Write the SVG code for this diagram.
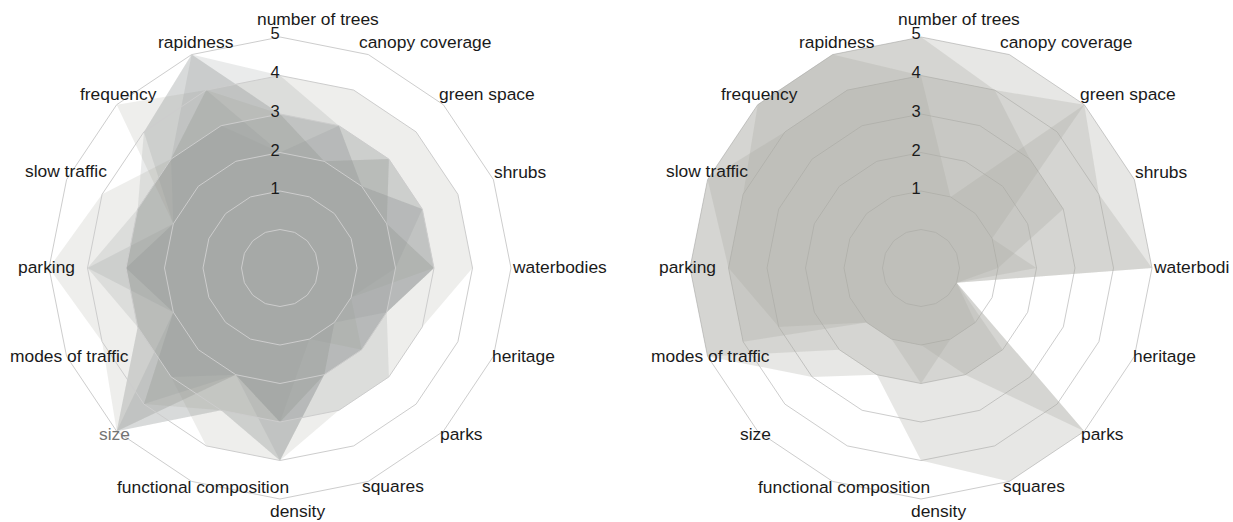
<svg xmlns="http://www.w3.org/2000/svg" xmlns:xlink="http://www.w3.org/1999/xlink" width="1233" height="522" viewBox="0 0 1233 522">
  <style>
    .ring { fill: none; stroke: #cdcdcd; stroke-width: 1; }
    .lab { font-family: "Liberation Sans", Arial, sans-serif; font-size: 17.4px; fill: #1a1a1a; }
    .tick { font-family: "Liberation Sans", Arial, sans-serif; font-size: 16.5px; fill: #1a1a1a; text-anchor: middle; }
    .sa { fill: #8c9290; fill-opacity: 0.18; stroke: none; }
    .sb { fill: #a39f97; fill-opacity: 0.18; stroke: none; }
    .ra { fill: #aaa9a2; fill-opacity: 0.28; stroke: none; }
  </style>
  <defs>
    <!-- 16-axis grid: levels 0..5, radius = 38.5 * (level + 1) -->
    <g id="rings">
      <polygon class="ring" points="0,-231 88.4,-213.4 163.3,-163.3 213.4,-88.4 231,0 213.4,88.4 163.3,163.3 88.4,213.4 0,231 -88.4,213.4 -163.3,163.3 -213.4,88.4 -231,0 -213.4,-88.4 -163.3,-163.3 -88.4,-213.4"/>
      <polygon class="ring" points="0,-192.5 73.7,-177.9 136.1,-136.1 177.9,-73.7 192.5,0 177.9,73.7 136.1,136.1 73.7,177.9 0,192.5 -73.7,177.9 -136.1,136.1 -177.9,73.7 -192.5,0 -177.9,-73.7 -136.1,-136.1 -73.7,-177.9"/>
      <polygon class="ring" points="0,-154 58.9,-142.3 108.9,-108.9 142.3,-58.9 154,0 142.3,58.9 108.9,108.9 58.9,142.3 0,154 -58.9,142.3 -108.9,108.9 -142.3,58.9 -154,0 -142.3,-58.9 -108.9,-108.9 -58.9,-142.3"/>
      <polygon class="ring" points="0,-115.5 44.2,-106.7 81.7,-81.7 106.7,-44.2 115.5,0 106.7,44.2 81.7,81.7 44.2,106.7 0,115.5 -44.2,106.7 -81.7,81.7 -106.7,44.2 -115.5,0 -106.7,-44.2 -81.7,-81.7 -44.2,-106.7"/>
      <polygon class="ring" points="0,-77 29.5,-71.1 54.4,-54.4 71.1,-29.5 77,0 71.1,29.5 54.4,54.4 29.5,71.1 0,77 -29.5,71.1 -54.4,54.4 -71.1,29.5 -77,0 -71.1,-29.5 -54.4,-54.4 -29.5,-71.1"/>
      <polygon class="ring" points="0,-38.5 14.7,-35.6 27.2,-27.2 35.6,-14.7 38.5,0 35.6,14.7 27.2,27.2 14.7,35.6 0,38.5 -14.7,35.6 -27.2,27.2 -35.6,14.7 -38.5,0 -35.6,-14.7 -27.2,-27.2 -14.7,-35.6"/>
    </g>
    <g id="ticks">
      <text class="tick" x="-5" y="-229">5</text>
      <text class="tick" x="-5" y="-190">4</text>
      <text class="tick" x="-5" y="-151">3</text>
      <text class="tick" x="-5" y="-112">2</text>
      <text class="tick" x="-5" y="-74">1</text>
    </g>
  </defs>

  <rect width="1233" height="522" fill="#ffffff"/>

  <!-- Left radar chart -->
  <g id="chart-left">
    <g id="left-series" transform="translate(280,268)">
      <polygon class="sa" points="0,-192.5 58.9,-142.3 108.9,-108.9 142.3,-58.9 154,0 106.7,44.2 81.7,81.7 44.2,106.7 0,192.5 -58.9,142.3 -163.3,163.3 -142.3,58.9 -154,0 -142.3,-58.9 -136.1,-136.1 -88.4,-213.4"/>
      <polygon class="sb" points="0,-154 44.2,-106.7 108.9,-108.9 106.7,-44.2 154,0 71.1,29.5 81.7,81.7 29.5,71.1 0,154 -58.9,142.3 -136.1,136.1 -106.7,44.2 -154,0 -106.7,-44.2 -163.3,-163.3 -73.7,-177.9"/>
      <polygon class="sa" points="0,-154 58.9,-142.3 81.7,-81.7 142.3,-58.9 154,0 106.7,44.2 81.7,81.7 44.2,106.7 0,192.5 -44.2,106.7 -163.3,163.3 -142.3,58.9 -192.5,0 -106.7,-44.2 -108.9,-108.9 -88.4,-213.4"/>
      <polygon class="sb" points="0,-115.5 44.2,-106.7 81.7,-81.7 106.7,-44.2 115.5,0 71.1,29.5 54.4,54.4 44.2,106.7 0,154 -44.2,106.7 -163.3,163.3 -177.9,73.7 -231,0 -177.9,-73.7 -108.9,-108.9 -58.9,-142.3"/>
      <polygon class="sb" points="0,-192.5 73.7,-177.9 136.1,-136.1 177.9,-73.7 192.5,0 142.3,58.9 108.9,108.9 58.9,142.3 0,192.5 -73.7,177.9 -108.9,108.9 -142.3,58.9 -154,0 -142.3,-58.9 -108.9,-108.9 -73.7,-177.9"/>
      <polygon class="sa" points="0,-154 58.9,-142.3 108.9,-108.9 142.3,-58.9 154,0 106.7,44.2 108.9,108.9 58.9,142.3 0,154 -44.2,106.7 -136.1,136.1 -106.7,44.2 -192.5,0 -142.3,-58.9 -108.9,-108.9 -58.9,-142.3"/>
      <polygon class="sa" points="0,-154 44.2,-106.7 108.9,-108.9 106.7,-44.2 154,0 106.7,44.2 81.7,81.7 44.2,106.7 0,192.5 -58.9,142.3 -163.3,163.3 -106.7,44.2 -154,0 -106.7,-44.2 -136.1,-136.1 -88.4,-213.4"/>
      <polygon class="sa" points="0,-115.5 58.9,-142.3 81.7,-81.7 142.3,-58.9 115.5,0 106.7,44.2 54.4,54.4 44.2,106.7 0,154 -44.2,106.7 -108.9,108.9 -142.3,58.9 -154,0 -142.3,-58.9 -108.9,-108.9 -73.7,-177.9"/>
    </g>
    <use href="#rings" xlink:href="#rings" transform="translate(280,268)"/>
    <use href="#ticks" xlink:href="#ticks" transform="translate(280,268)"/>
    <g id="left-labels">
      <text class="lab" x="257" y="25">number of trees</text>
      <text class="lab" x="359" y="48">canopy coverage</text>
      <text class="lab" x="439" y="100">green space</text>
      <text class="lab" x="494" y="178">shrubs</text>
      <text class="lab" x="513" y="273">waterbodies</text>
      <text class="lab" x="492" y="362">heritage</text>
      <text class="lab" x="440" y="440">parks</text>
      <text class="lab" x="362" y="492">squares</text>
      <text class="lab" x="270" y="517">density</text>
      <text class="lab" x="117" y="493">functional composition</text>
      <text class="lab" x="99" y="440" style="fill:#737373">size</text>
      <text class="lab" x="10" y="362">modes of traffic</text>
      <text class="lab" x="18" y="273">parking</text>
      <text class="lab" x="25" y="177">slow traffic</text>
      <text class="lab" x="80" y="100">frequency</text>
      <text class="lab" x="158" y="48">rapidness</text>
    </g>
  </g>

  <!-- Right radar chart -->
  <g id="chart-right">
    <use href="#rings" xlink:href="#rings" transform="translate(921,268)"/>
    <g id="right-series" transform="translate(921,268)">
      <polygon class="ra" points="0,-231 88.4,-213.4 163.3,-163.3 213.4,-88.4 231,0 35.6,14.7 163.3,163.3 88.4,213.4 0,192.5 -44.2,106.7 -108.9,108.9 -213.4,88.4 -231,0 -213.4,-88.4 -163.3,-163.3 -88.4,-213.4"/>
      <polygon class="ra" points="0,-192.5 29.5,-71.1 163.3,-163.3 177.9,-73.7 231,0 35.6,14.7 163.3,163.3 44.2,106.7 0,77 -29.5,71.1 -54.4,54.4 -142.3,58.9 -192.5,0 -177.9,-73.7 -163.3,-163.3 -88.4,-213.4"/>
      <polygon class="ra" points="0,-231 73.7,-177.9 163.3,-163.3 71.1,-29.5 115.5,0 35.6,14.7 81.7,81.7 44.2,106.7 0,115.5 -44.2,106.7 -81.7,81.7 -213.4,88.4 -231,0 -213.4,-88.4 -163.3,-163.3 -88.4,-213.4"/>
      <polygon class="ra" points="0,-192.5 73.7,-177.9 108.9,-108.9 142.3,-58.9 77,0 35.6,14.7 54.4,54.4 29.5,71.1 0,115.5 -29.5,71.1 -54.4,54.4 -177.9,73.7 -192.5,0 -213.4,-88.4 -136.1,-136.1 -73.7,-177.9"/>
    </g>
    <use href="#ticks" xlink:href="#ticks" transform="translate(921,268)"/>
    <g id="right-labels">
      <text class="lab" x="898" y="25">number of trees</text>
      <text class="lab" x="1000" y="48">canopy coverage</text>
      <text class="lab" x="1080" y="100">green space</text>
      <text class="lab" x="1135" y="178">shrubs</text>
      <text class="lab" x="1154" y="273">waterbodi</text>
      <text class="lab" x="1133" y="362">heritage</text>
      <text class="lab" x="1081" y="440">parks</text>
      <text class="lab" x="1003" y="492">squares</text>
      <text class="lab" x="911" y="517">density</text>
      <text class="lab" x="758" y="493">functional composition</text>
      <text class="lab" x="740" y="440">size</text>
      <text class="lab" x="651" y="362">modes of traffic</text>
      <text class="lab" x="659" y="273">parking</text>
      <text class="lab" x="666" y="177">slow traffic</text>
      <text class="lab" x="721" y="100">frequency</text>
      <text class="lab" x="799" y="48">rapidness</text>
    </g>
  </g>
</svg>
